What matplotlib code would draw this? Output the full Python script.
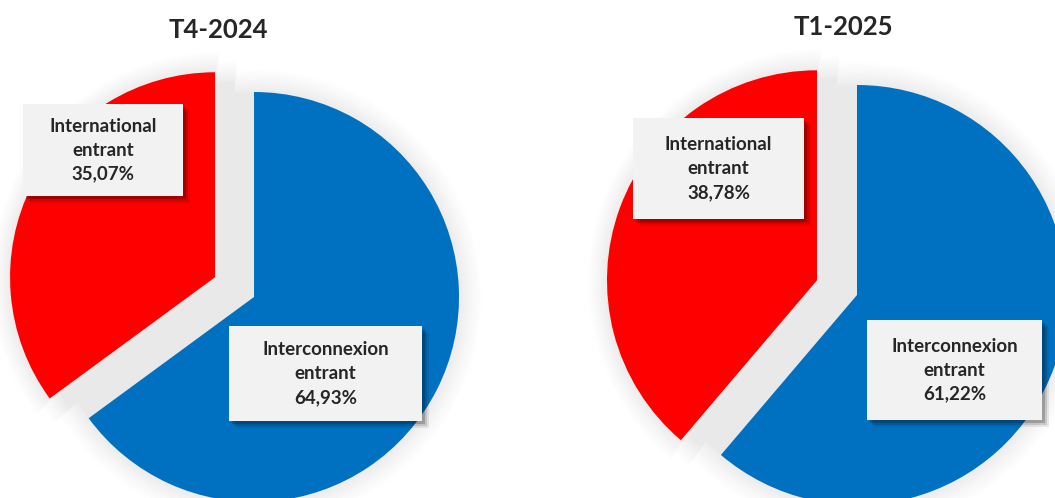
import matplotlib
matplotlib.use("Agg")
import matplotlib.pyplot as plt
from matplotlib.patches import Rectangle

plt.rcParams['font.family'] = ['Lato', 'DejaVu Sans']

periods = ["T4-2024", "T1-2025"]
categories = ["Interconnexion entrant", "International entrant"]
interconnexion = [64.93, 61.22]
international = [35.07, 38.78]
colors = ["#0070C0", "#FF0000"]

W, H = 1055, 498
fig = plt.figure(figsize=(W / 100, H / 100), dpi=100)


def fx(x):
    return x / W


def fy(y):
    return 1 - y / H


# pie layout in pixels: axes span, centre, radius, explode of red slice
layouts = [
    dict(x0=0, x1=527, cx=254, cy=297, r=205, expl=0.213,
         title=(218, 30), boxes=[(23, 104, 183, 196), (229, 326, 422, 421)]),
    dict(x0=527, x1=1055, cx=857, cy=295, r=210, expl=0.203,
         title=(843, 27), boxes=[(633, 118, 804, 219), (867, 320, 1042, 420)]),
]


def pct(v):
    return f"{v:.2f}".replace(".", ",") + "%"


for i, lay in enumerate(layouts):
    ax = fig.add_axes([fx(lay["x0"]), 0, fx(lay["x1"] - lay["x0"]), 1])
    s = lay["r"]
    vals = [interconnexion[i], international[i]]

    # soft grey glow behind the pie (also fills the gap of the exploded slice)
    n = 10
    for k in range(n, -1, -1):
        rr = 1 + 0.011 * k
        g = 0.915 + 0.08 * (k / n) ** 0.8
        for t in (1.0, 0.5, 0.0):
            ax.pie(vals, startangle=90, counterclock=False, radius=rr,
                   explode=[0, lay["expl"] * t / rr], colors=[(g, g, g)] * 2,
                   wedgeprops=dict(linewidth=0))
    ax.pie(vals, startangle=90, counterclock=False, radius=1,
           explode=[0, lay["expl"]], colors=colors,
           wedgeprops=dict(linewidth=0))
    ax.set_xlim((lay["x0"] - lay["cx"]) / s, (lay["x1"] - lay["cx"]) / s)
    ax.set_ylim((lay["cy"] - H) / s, lay["cy"] / s)
    ax.set_aspect("auto")
    ax.set_axis_off()

    tx, ty = lay["title"]
    fig.text(fx(tx), fy(ty), periods[i], ha="center", va="center",
             fontsize=18.5, fontweight="bold", color="#262626")

    names = [categories[1], categories[0]]
    values = [international[i], interconnexion[i]]
    for (bx0, by0, bx1, by1), name, v in zip(lay["boxes"], names, values):
        for d, a in [(7, 0.08), (5, 0.12), (3, 0.2)]:
            fig.patches.append(Rectangle((fx(bx0 + d), fy(by1 + d)), fx(bx1 - bx0), (by1 - by0) / H,
                                         transform=fig.transFigure, facecolor="black",
                                         alpha=a, linewidth=0))
        fig.patches.append(Rectangle((fx(bx0), fy(by1)), fx(bx1 - bx0), (by1 - by0) / H,
                                     transform=fig.transFigure, facecolor="#F2F2F2",
                                     linewidth=0))
        w1, w2 = name.split(" ")
        label = f"{w1}\n{w2}\n{pct(v)}"
        fig.text(fx((bx0 + bx1) / 2), fy((by0 + by1) / 2), label, ha="center", va="center",
                 fontsize=13.5, fontweight="bold", color="#262626", linespacing=1.5)

fig.savefig("out.png", dpi=100, facecolor="white")
